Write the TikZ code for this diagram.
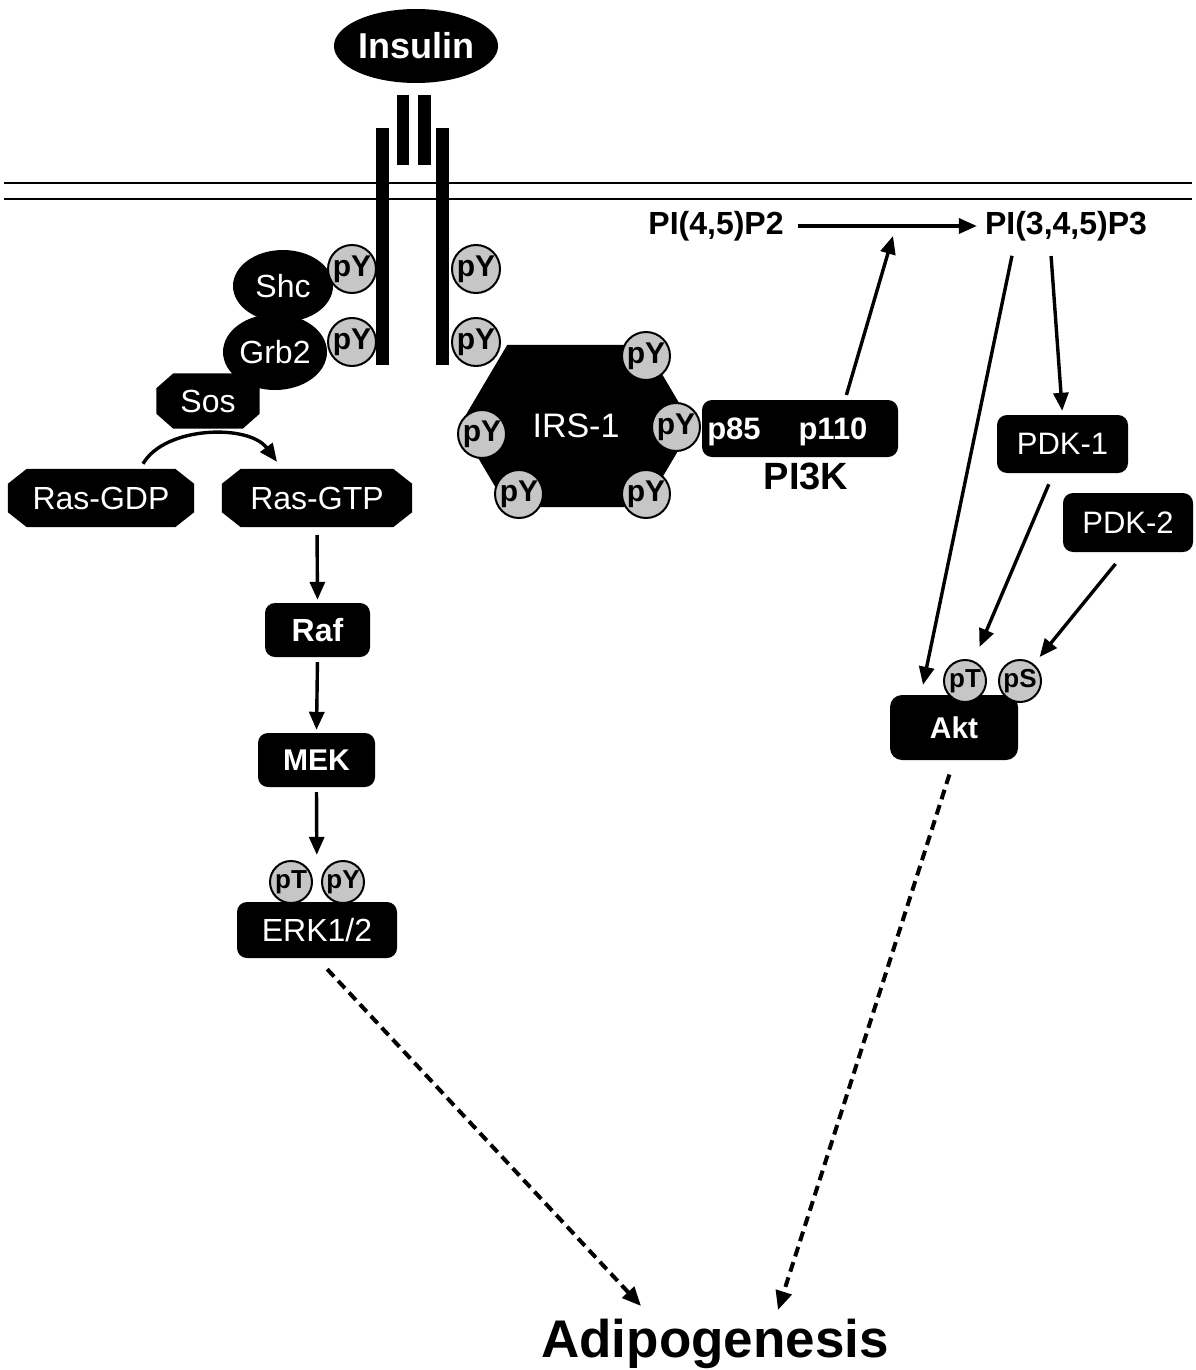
\documentclass[tikz,border=0pt]{standalone}
\usepackage{fontspec}
\setmainfont{Liberation Sans}
\usetikzlibrary{shapes.geometric,arrows.meta,calc}
\pgfdeclarelayer{bg}
\pgfsetlayers{bg,main}
\newcommand\fsz[1]{\fontsize{#1}{#1}\selectfont}
\newcommand\octfill[3]{\fill ([xshift=#2]#1.north west) -- ([xshift=-#2]#1.north east) -- ([yshift=-#3]#1.north east) -- ([yshift=#3]#1.south east) -- ([xshift=-#2]#1.south east) -- ([xshift=#2]#1.south west) -- ([yshift=#3]#1.south west) -- ([yshift=-#3]#1.north west) -- cycle;}
\begin{document}
\begin{tikzpicture}[x=1pt,y=-1pt,
  blk/.style={fill=black,text=white,inner sep=0pt},
  ell/.style={blk,ellipse},
  rbox/.style={blk,rectangle,rounded corners=10pt},
  octn/.style={text=white,inner sep=0pt,rectangle},
  phos/.style={circle,draw=black,line width=2pt,fill=gray!45,inner sep=0pt,minimum size=48pt,font=\bfseries\fsz{30}},
  phs/.style={phos,minimum size=42pt,font=\bfseries\fsz{26}},
  arr/.style={line width=3.4pt,-{Triangle[length=18pt,width=15pt]}},
  darr/.style={line width=4pt,dash pattern=on 10pt off 6pt,-{Triangle[length=19pt,width=16pt]}},
  lbl/.style={inner sep=0pt,font=\bfseries\fsz{32}},
]
\useasboundingbox (0,0) rectangle (1196,1370);
% membrane
\draw[line width=2.2pt] (4,183) -- (1192,183);
\draw[line width=2.2pt] (4,199) -- (1192,199);
% receptor
\fill (376,128) rectangle (389,365);
\fill (436,128) rectangle (449,365);
\fill (397,95) rectangle (409,165);
\fill (418,95) rectangle (431,165);
\node[ell,minimum width=162pt,minimum height=74pt,font=\bfseries\fsz{36}] (ins) at (416,46) {Insulin};
% adaptors
\node[ell,minimum width=100pt,minimum height=72pt,font=\fsz{32}] (shc) at (283,286) {Shc};
\node[ell,minimum width=104pt,minimum height=76pt,font=\fsz{32}] (grb) at (275,352) {Grb2};
\node[octn,minimum width=103pt,minimum height=55pt,font=\fsz{32}] (sos) at (208,401) {Sos};
\node[octn,minimum width=186pt,minimum height=58pt,font=\fsz{32}] (rasgdp) at (101,498) {Ras-GDP};
\node[octn,minimum width=190pt,minimum height=58pt,font=\fsz{32}] (rasgtp) at (317,498) {Ras-GTP};
\node[octn,minimum width=233pt,minimum height=162pt,font=\fsz{34}] (irs) at (576,426) {IRS-1};
\begin{pgfonlayer}{bg}
\octfill{sos}{17pt}{15pt}
\octfill{rasgdp}{19pt}{15pt}
\octfill{rasgtp}{19pt}{15pt}
\fill ([xshift=48pt]irs.north west) -- ([xshift=-48pt]irs.north east) -- (irs.east) -- ([xshift=-48pt]irs.south east) -- ([xshift=48pt]irs.south west) -- (irs.west) -- cycle;
\end{pgfonlayer}
% receptor phosphotyrosines
\node[phos] (ry1) at (352,269) {pY};
\node[phos] (ry2) at (352,342) {pY};
\node[phos] (ry3) at (476,269) {pY};
\node[phos] (ry4) at (476,342) {pY};
% IRS-1 phosphotyrosines
\node[phos] (iy1) at (646,356) {pY};
\node[phos] (iy2) at (676,427) {pY};
\node[phos] (iy3) at (482,434) {pY};
\node[phos] (iy4) at (519,494) {pY};
\node[phos] (iy5) at (646,494) {pY};
% PI3K
\node[rbox,minimum width=196pt,minimum height=57pt] (pi3k) at (800,428.5) {};
\node[inner sep=0pt,text=white,font=\bfseries\fsz{31},anchor=base] (p85) at (734,439) {p85};
\node[inner sep=0pt,text=white,font=\bfseries\fsz{31},anchor=base] (p110) at (833,439) {p110};
\node[inner sep=0pt,font=\bfseries\fsz{38}] (pi3klbl) at (806,476) {PI3K};
% lipids
\node[lbl] (pip2) at (716,226) {PI(4,5)P2};
\node[lbl] (pip3) at (1066,226) {PI(3,4,5)P3};
\coordinate (cat) at (893,236);
% MAPK cascade
\node[rbox,minimum width=105pt,minimum height=54pt,font=\bfseries\fsz{32}] (raf) at (317.5,630) {Raf};
\node[rbox,minimum width=117pt,minimum height=54pt,font=\bfseries\fsz{30}] (mek) at (316.5,760) {MEK};
\node[rbox,minimum width=160pt,minimum height=56pt,font=\fsz{32}] (erk) at (317,930) {ERK1/2};
\node[phs] (ept) at (291,882) {pT};
\node[phs] (epy) at (343,882) {pY};
% Akt branch
\node[rbox,minimum width=131pt,minimum height=58pt,font=\fsz{31}] (pdk1) at (1062.5,444) {PDK-1};
\node[rbox,minimum width=130pt,minimum height=59pt,font=\fsz{31}] (pdk2) at (1128,522.5) {PDK-2};
\node[rbox,rounded corners=12pt,minimum width=128pt,minimum height=65pt,font=\bfseries\fsz{30}] (akt) at (954,727.5) {Akt};
\node[phs] (akpt) at (965,681) {pT};
\node[phs] (akps) at (1020,681) {pS};
% outcome
\node[inner sep=0pt,font=\bfseries\fsz{53}] (adipo) at (715,1344) {Adipogenesis};
\coordinate (adL) at (641,1306);
\coordinate (adR) at (778,1310);
% connectors
\draw[line width=3.4pt,-{Triangle[length=18pt,width=15pt]}] ([xshift=42pt,yshift=5pt]rasgdp.north) .. controls +(22pt,38pt) and +(-28pt,38pt) .. ([xshift=-40pt,yshift=7pt]rasgtp.north);
\draw[arr,shorten <=8pt,shorten >=3pt] (rasgtp.south) -- (raf.north);
\draw[arr,shorten <=5pt,shorten >=3pt] (raf.south) -- (mek.north);
\draw[arr,shorten <=5pt,shorten >=47pt] (mek.south) -- (erk.north);
\draw[arr,shorten <=5pt] ([xshift=45pt]pi3k.north) -- (cat);
\draw[arr,shorten <=14pt,shorten >=8pt] (pip2.east) -- (pip3.west);
\draw[arr,shorten <=15pt,shorten >=4pt] ([xshift=-16pt]pip3.south) -- (pdk1.north);
\draw[arr,shorten <=15pt] ([xshift=-51pt]pip3.south) -- ([xshift=-31pt,yshift=10pt]akt.north);
\draw[arr,shorten <=12pt,shorten >=15pt] ([xshift=-9pt]pdk1.south) -- (akpt);
\draw[arr,shorten <=15pt,shorten >=9pt] ([xshift=-3pt]pdk2.south) -- (akps);
\draw[darr,shorten <=15pt] (erk.south) -- (adL);
\draw[darr,shorten <=15pt] (akt.south) -- (adR);
\end{tikzpicture}
\end{document}
